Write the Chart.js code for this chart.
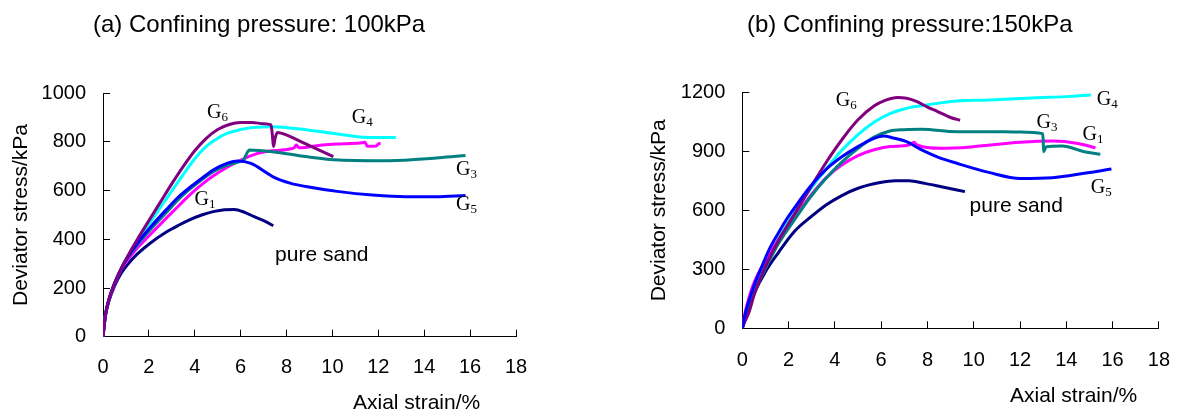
<!DOCTYPE html>
<html>
<head>
<meta charset="utf-8">
<script src="https://cdn.jsdelivr.net/npm/chart.js@4.4.0/dist/chart.umd.min.js"></script>
<style>
  html, body { margin: 0; padding: 0; background: #fff; }
  body { width: 1197px; height: 412px; position: relative; overflow: hidden; }
  canvas { position: absolute; top: 0; }
  #chartA { left: 0; }
  #chartB { left: 620px; }
</style>
</head>
<body>
<canvas id="chartA" width="620" height="412"></canvas>
<canvas id="chartB" width="577" height="412"></canvas>
<script>
// tick labels
const xTicks = [0, 2, 4, 6, 8, 10, 12, 14, 16, 18];
const yTicksA = [0, 200, 400, 600, 800, 1000];
const yTicksB = [0, 300, 600, 900, 1200];

// (a) confining pressure 100kPa : [axial strain %, deviator stress kPa]
const sandA = [[0,0],[0.1,82],[0.25,143],[0.5,208],[0.82,265],[1.1,300],[1.5,340],[2.04,383],[2.76,430],[3.34,460],[3.77,480],[4.3,500],[4.8,514],[5.3,522],[5.72,523],[6.2,510],[6.59,493],[7.0,477],[7.42,456]];
const g1A = [[0,0],[0.1,84],[0.25,148],[0.5,215],[0.82,280],[1.1,318],[1.5,365],[2.04,418],[2.76,487],[3.3,538],[3.77,582],[4.3,625],[4.8,660],[5.43,697],[6.01,726],[6.74,753],[7.2,762],[8.2,772],[8.35,778],[8.42,788],[8.55,776],[9.57,788],[10.5,793],[11.3,797],[11.42,799],[11.52,782],[11.9,783],[12.0,792],[12.1,795]];
const g3A = [[0,0],[0.1,85],[0.25,150],[0.5,218],[0.82,285],[1.1,328],[1.5,378],[2.04,437],[2.76,510],[3.3,565],[3.77,605],[4.3,645],[4.8,678],[5.43,705],[6.0,720],[6.12,725],[6.25,750],[6.38,767],[7.39,760],[8.84,740],[10.29,726],[12.47,723],[14.64,735],[15.8,744]];
const g4A = [[0,0],[0.1,85],[0.25,150],[0.5,218],[0.82,285],[1.1,333],[1.5,393],[2.04,468],[2.7,558],[3.34,645],[3.99,730],[4.5,782],[5.0,815],[5.43,836],[6.0,851],[6.5,859],[7.39,863],[8.84,850],[10.29,832],[11.74,818],[12.76,818]];
const g5A = [[0,0],[0.1,85],[0.25,150],[0.5,218],[0.82,285],[1.1,330],[1.5,385],[2.04,447],[2.76,522],[3.3,575],[3.77,612],[4.3,650],[4.8,685],[5.43,713],[5.87,722],[6.45,712],[7.17,671],[7.39,658],[8.19,630],[8.84,617],[10.29,596],[11.74,582],[13.19,575],[14.5,575],[15.8,580]];
const g6A = [[0,0],[0.1,85],[0.25,150],[0.5,218],[0.82,285],[1.1,335],[1.5,400],[2.04,483],[2.5,553],[3.05,636],[3.5,700],[3.99,763],[4.5,815],[5.0,851],[5.5,872],[6.0,880],[6.5,880],[7.0,875],[7.32,870],[7.38,830],[7.43,781],[7.5,815],[7.6,839],[7.9,832],[8.84,792],[9.4,768],[10.04,740]];

// (b) confining pressure 150kPa
const sandB = [[0,0],[0.1,45],[0.25,100],[0.5,175],[1,288],[1.56,385],[2.25,492],[3,570],[3.62,627],[4.3,675],[5,712],[5.96,741],[6.6,750],[7.2,750],[7.89,737],[8.6,720],[9.62,695]];
const g1B = [[0,0],[0.1,70],[0.25,140],[0.5,230],[1,345],[1.56,450],[2.25,565],[2.93,672],[3.62,765],[4.31,831],[5,878],[5.69,908],[6.38,924],[7.2,932],[7.42,946],[7.55,932],[8.58,915],[9.96,923],[12.02,946],[13.4,952],[14.5,940],[15.26,918]];
const g3B = [[0,0],[0.1,45],[0.25,100],[0.5,180],[1,305],[1.56,430],[2.25,551],[2.93,665],[3.62,763],[4.3,845],[5,915],[5.69,972],[6.38,1003],[7,1010],[7.75,1012],[9.27,1000],[10.65,1000],[12,998],[12.98,990],[13.0,960],[13.02,898],[13.13,923],[13.82,927],[14.78,898],[15.47,885]];
const g4B = [[0,0],[0.1,55],[0.25,118],[0.5,205],[1,325],[1.56,455],[2.25,590],[2.93,705],[3.62,810],[4.3,905],[5,985],[5.69,1048],[6.38,1092],[7.07,1118],[7.75,1132],[8.5,1145],[9.27,1156],[10.65,1161],[12.71,1172],[14,1178],[15.06,1186]];
const g5B = [[0,0],[0.1,60],[0.25,125],[0.5,215],[0.87,322],[1.2,410],[1.56,485],[1.9,552],[2.25,612],[2.93,720],[3.62,808],[4.3,872],[5,924],[5.69,966],[6.1,978],[6.52,968],[7.07,950],[7.75,907],[8.5,868],[9.27,839],[10.65,793],[12.02,762],[13.4,766],[14.78,788],[15.95,810]];
const g6B = [[0,0],[0.08,25],[0.18,51],[0.3,85],[0.5,165],[0.87,280],[1.2,365],[1.56,445],[2.25,580],[2.93,712],[3.62,843],[4.31,960],[5,1060],[5.69,1130],[6.2,1160],[6.7,1174],[7.1,1170],[7.5,1155],[8.0,1125],[8.4,1104],[9.0,1072],[9.41,1058]];

// curve notes: text and anchor in data units (strain, stress)
const notesA = ['G6', 'G1', 'G4', 'G3', 'G5', 'pure sand'];
const notesAX = [4.53, 3.99, 10.84, 15.39, 15.39, 7.5];
const notesAY = [897, 541, 877, 664, 521, 312];
const notesB = ['G6', 'G4', 'G3', 'G1', 'G5', 'pure sand'];
const notesBX = [4.04, 15.32, 12.71, 14.7, 15.06, 9.82];
const notesBY = [1132, 1135, 1020, 957, 686, 590];

const SANS = '"Liberation Sans", Arial, sans-serif';
const SERIF = '"Liberation Serif", "Times New Roman", serif';
const colors = { sand: '#000080', G1: '#ff00ff', G3: '#008080', G4: '#00ffff', G5: '#0000ff', G6: '#800080' };

function line(name, pts) {
  return {
    label: name,
    data: pts.map(p => ({ x: p[0], y: p[1] })),
    showLine: true,
    borderColor: colors[name],
    backgroundColor: colors[name],
    borderWidth: 3,
    pointRadius: 0,
    fill: false,
    cubicInterpolationMode: 'monotone'
  };
}

function textPlugin(cfg) {
  return {
    id: 'panelText',
    afterDraw(chart) {
      const ctx = chart.ctx;
      const xs = chart.scales.x, ys = chart.scales.y;
      ctx.save();
      ctx.fillStyle = '#000';
      ctx.textAlign = 'left';
      ctx.textBaseline = 'alphabetic';
      ctx.font = '24px ' + SANS;
      ctx.fillText(cfg.title, cfg.titleX, 32);
      ctx.font = '21px ' + SANS;
      ctx.fillText('Axial strain/%', cfg.xTitleX, cfg.xTitleY);
      cfg.notes.forEach((t, i) => {
        const px = xs.getPixelForValue(cfg.noteX[i]);
        const py = ys.getPixelForValue(cfg.noteY[i]);
        if (t.startsWith('G')) {
          ctx.font = '20px ' + SERIF;
          ctx.fillText('G', px, py);
          const w = ctx.measureText('G').width;
          ctx.font = '13px ' + SERIF;
          ctx.fillText(t.slice(1), px + w, py + 3);
        } else {
          ctx.font = '21px ' + SANS;
          ctx.fillText(t, px, py);
        }
      });
      ctx.restore();
    }
  };
}

function axes(yTicks, yMax, yWidth, xHeight, yTitlePad, xLabelPad) {
  const grid = { drawOnChartArea: false, drawTicks: true, tickLength: -7, color: '#000', lineWidth: 1 };
  const border = { display: true, color: '#000', width: 1 };
  return {
    x: {
      type: 'linear', min: 0, max: 18,
      grid: grid, border: border,
      afterBuildTicks: s => { s.ticks = xTicks.map(v => ({ value: v })); },
      afterFit: s => { s.height = xHeight; },
      ticks: { color: '#000', font: { family: SANS, size: 20 }, padding: xLabelPad, maxRotation: 0, callback: v => String(v) }
    },
    y: {
      type: 'linear', min: 0, max: yMax,
      grid: grid, border: border,
      afterBuildTicks: s => { s.ticks = yTicks.map(v => ({ value: v })); },
      afterFit: s => { s.width = yWidth; },
      ticks: { color: '#000', font: { family: SANS, size: 20 }, padding: 24, callback: v => String(v) },
      title: { display: true, text: 'Deviator stress/kPa', color: '#000', font: { family: SANS, size: 21 }, padding: { top: yTitlePad, bottom: 0 } }
    }
  };
}

function makeChart(id, datasets, scales, padding, plugin) {
  return new Chart(document.getElementById(id), {
    type: 'scatter',
    data: { datasets: datasets },
    options: {
      responsive: false,
      animation: false,
      devicePixelRatio: 1,
      layout: { padding: padding },
      plugins: { legend: { display: false }, tooltip: { enabled: false } },
      scales: scales
    },
    plugins: [plugin]
  });
}

makeChart('chartA',
  [line('G6', g6A), line('G5', g5A), line('G3', g3A), line('G1', g1A), line('G4', g4A), line('sand', sandA)],
  axes(yTicksA, 1000, 103, 75.3, 8.2, 25.8),
  { left: 0, right: 104, top: 93.3, bottom: 0 },
  textPlugin({ title: '(a) Confining pressure: 100kPa', titleX: 93, xTitleX: 353, xTitleY: 409, notes: notesA, noteX: notesAX, noteY: notesAY })
);

makeChart('chartB',
  [line('G5', g5B), line('G6', g6B), line('G3', g3B), line('G1', g1B), line('G4', g4B), line('sand', sandB)],
  axes(yTicksB, 1200, 122.3, 83.7, 26.4, 27),
  { left: 0, right: 19, top: 92.3, bottom: 0 },
  textPlugin({ title: '(b) Confining pressure:150kPa', titleX: 127, xTitleX: 390, xTitleY: 402, notes: notesB, noteX: notesBX, noteY: notesBY })
);
</script>
</body>
</html>
